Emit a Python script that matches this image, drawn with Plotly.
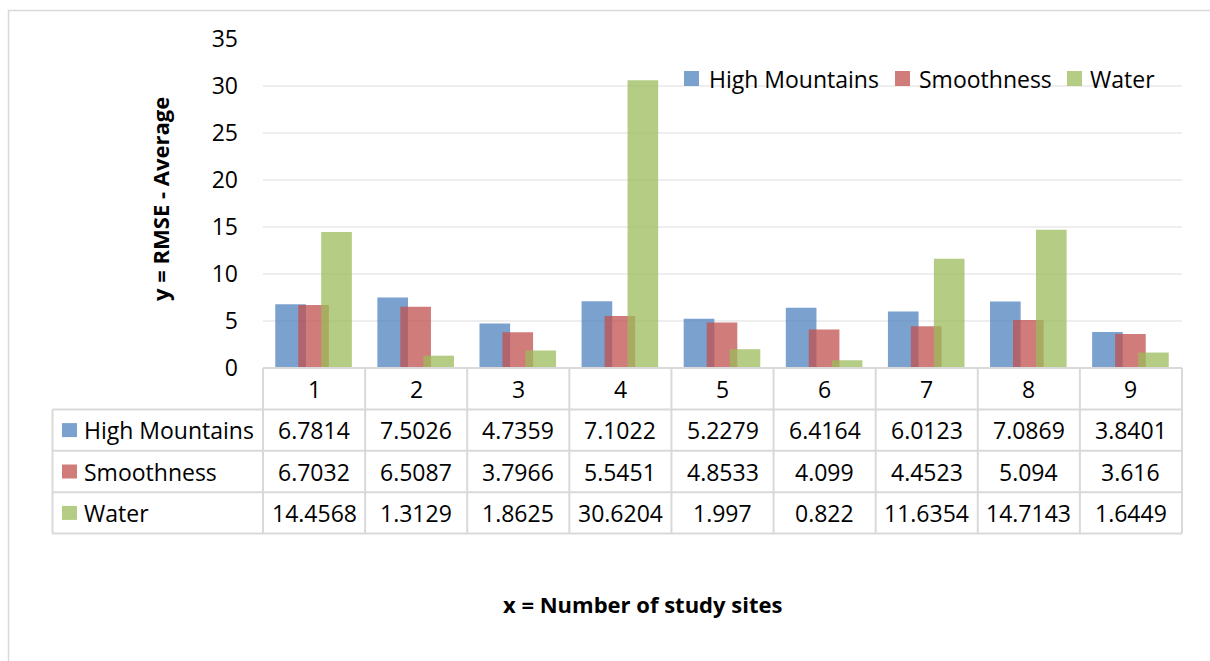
import plotly.graph_objects as go

# ---- data -------------------------------------------------------------
SITES = [1, 2, 3, 4, 5, 6, 7, 8, 9]
SITE_LABELS = ["1", "2", "3", "4", "5", "6", "7", "8", "9"]
SERIES = ["High Mountains", "Smoothness", "Water"]
HIGH_MOUNTAINS = [6.7814, 7.5026, 4.7359, 7.1022, 5.2279, 6.4164, 6.0123, 7.0869, 3.8401]
SMOOTHNESS = [6.7032, 6.5087, 3.7966, 5.5451, 4.8533, 4.099, 4.4523, 5.094, 3.616]
WATER = [14.4568, 1.3129, 1.8625, 30.6204, 1.997, 0.822, 11.6354, 14.7143, 1.6449]
Y_TICKS = [0, 5, 10, 15, 20, 25, 30, 35]

VALUES = [HIGH_MOUNTAINS, SMOOTHNESS, WATER]

# ---- style ------------------------------------------------------------
FONT = "Open Sans"
FS = 23
COLORS = ["rgba(79,129,189,0.75)", "rgba(192,80,77,0.75)", "rgba(155,187,89,0.75)"]
BAR_WIDTH = 0.30
BAR_OFFSETS = [-0.38, -0.155, 0.07]
LINE = "#d9d9d9"

W, H = 1210, 661
ML, MR, MT, MB = 263, 28, 39, 293
PW, PH = W - ML - MR, H - MT - MB


def fx(px):
    return (px - ML) / PW


def fy(py):
    return (H - MB - py) / PH


fig = go.Figure()
for name, vals, col, off in zip(SERIES, VALUES, COLORS, BAR_OFFSETS):
    fig.add_trace(go.Bar(
        x=SITES, y=vals, name=name,
        width=BAR_WIDTH, offset=off,
        marker=dict(color=col, line=dict(width=0)),
        showlegend=False,
    ))

shapes = []
annotations = []

# outer chart frame
shapes.append(dict(type="rect", xref="paper", yref="paper",
                   x0=fx(8.5), x1=fx(1230), y0=fy(10.5), y1=fy(680),
                   line=dict(color=LINE, width=1.5), layer="below"))

# legend
LEG_Y = 78.5
LEG_BOX = [684, 895, 1067]
LEG_TEXT = [707, 917, 1088]
for name, col, bx, tx in zip(SERIES, COLORS, LEG_BOX, LEG_TEXT):
    shapes.append(dict(type="rect", xref="paper", yref="paper",
                       x0=fx(bx), x1=fx(bx + 15), y0=fy(LEG_Y - 7.5), y1=fy(LEG_Y + 7.5),
                       fillcolor=col, line=dict(width=0)))
    annotations.append(dict(text=name, xref="paper", yref="paper",
                            x=fx(tx), y=fy(LEG_Y), xanchor="left", yanchor="middle",
                            showarrow=False, font=dict(family=FONT, size=FS, color="#000")))

# data table under the plot
ROWS = [368, 409.4, 450.8, 492.2, 533.6]
TABLE_LEFT = 52.5
# horizontal rules
shapes.append(dict(type="line", xref="x domain", yref="paper", x0=0, x1=1,
                   y0=fy(ROWS[0]), y1=fy(ROWS[0]), line=dict(color=LINE, width=2)))
for r in ROWS[1:]:
    shapes.append(dict(type="line", xref="paper", yref="paper", x0=fx(TABLE_LEFT), x1=1,
                       y0=fy(r), y1=fy(r), line=dict(color=LINE, width=2)))
# vertical rules
shapes.append(dict(type="line", xref="paper", yref="paper", x0=fx(TABLE_LEFT), x1=fx(TABLE_LEFT),
                   y0=fy(ROWS[1]), y1=fy(ROWS[-1]), line=dict(color=LINE, width=2)))
for xd in (0, 1):
    shapes.append(dict(type="line", xref="x domain", yref="paper", x0=xd, x1=xd,
                       y0=fy(ROWS[0]), y1=fy(ROWS[-1]), line=dict(color=LINE, width=2)))
for s in SITES[:-1]:
    shapes.append(dict(type="line", xref="x", yref="paper", x0=s + 0.5, x1=s + 0.5,
                       y0=fy(ROWS[0]), y1=fy(ROWS[-1]), line=dict(color=LINE, width=2)))

# header row with site numbers
hc = (ROWS[0] + ROWS[1]) / 2
for s, lab in zip(SITES, SITE_LABELS):
    annotations.append(dict(text=lab, xref="x", yref="paper", x=s, y=fy(hc),
                            xanchor="center", yanchor="middle", showarrow=False,
                            font=dict(family=FONT, size=FS, color="#000")))

# value rows
for i, (name, vals, col) in enumerate(zip(SERIES, VALUES, COLORS)):
    c = (ROWS[i + 1] + ROWS[i + 2]) / 2
    shapes.append(dict(type="rect", xref="paper", yref="paper",
                       x0=fx(62), x1=fx(77), y0=fy(c - 7), y1=fy(c + 7),
                       fillcolor=col, line=dict(width=0)))
    annotations.append(dict(text=name, xref="paper", yref="paper", x=fx(82), y=fy(c),
                            xanchor="left", yanchor="middle", showarrow=False,
                            font=dict(family=FONT, size=FS, color="#000")))
    for s, v in zip(SITES, vals):
        annotations.append(dict(text=str(v), xref="x", yref="paper", x=s, y=fy(c),
                                xanchor="center", yanchor="middle", showarrow=False,
                                font=dict(family=FONT, size=FS, color="#000")))

# axis titles
annotations.append(dict(text="<b>y = RMSE - Average</b>", xref="paper", yref="paper",
                        x=fx(160), y=fy(199), textangle=-90, xanchor="center", yanchor="middle",
                        showarrow=False, font=dict(family=FONT, size=FS - 1, color="#000")))
annotations.append(dict(text="<b>x = Number of study sites</b>", xref="paper", yref="paper",
                        x=fx(642), y=fy(604), xanchor="center", yanchor="middle",
                        showarrow=False, font=dict(family=FONT, size=FS - 1, color="#000")))

fig.update_layout(
    width=W, height=H,
    margin=dict(l=ML, r=MR, t=MT, b=MB, pad=0),
    paper_bgcolor="white", plot_bgcolor="white",
    barmode="overlay",
    font=dict(family=FONT, size=FS, color="#000"),
    xaxis=dict(range=[0.5, 9.5], showticklabels=False, showgrid=False,
               zeroline=False, showline=False, ticks="", fixedrange=True),
    yaxis=dict(range=[0, 35], tickvals=Y_TICKS, showgrid=True, gridcolor="#eeeeee",
               gridwidth=1.5, zeroline=False, showline=False, ticks="",
               ticklabelstandoff=24, tickfont=dict(family=FONT, size=FS, color="#000")),
    shapes=shapes,
    annotations=annotations,
)

fig.write_html("out.html")
